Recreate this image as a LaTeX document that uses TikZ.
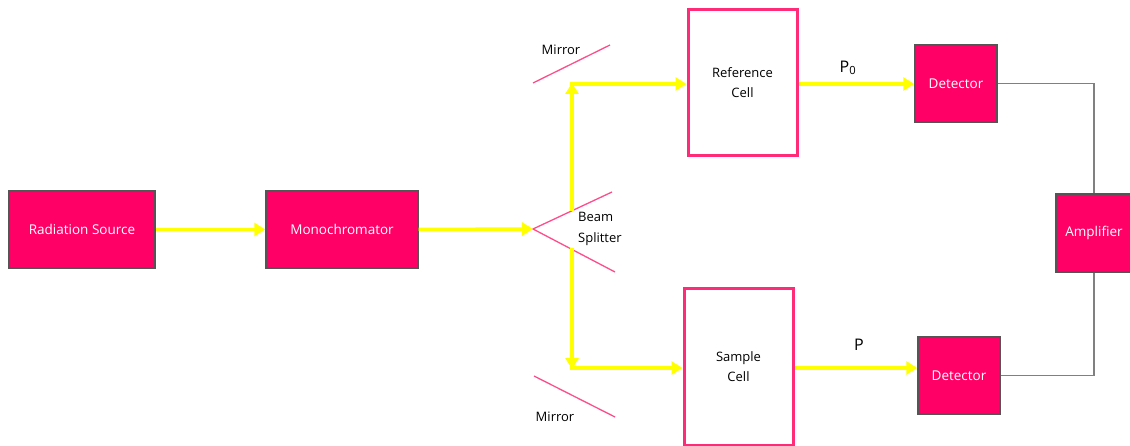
\documentclass[tikz,border=0pt]{standalone}
\usepackage{fontspec}
\setmainfont{Open Sans}
\usetikzlibrary{arrows.meta}
\definecolor{boxpink}{HTML}{FF0066}
\definecolor{boxedge}{HTML}{555555}
\definecolor{cellpink}{HTML}{FF2A78}
\definecolor{mirrorpink}{HTML}{FF4D8C}
\definecolor{beam}{HTML}{FFFF00}
\definecolor{wire}{HTML}{808080}
\begin{document}
\begin{tikzpicture}[x=1pt,y=-1pt,
  blk/.style={draw=boxedge,line width=1.4pt,fill=boxpink,text=white,font=\fontsize{13.5}{16}\selectfont,inner sep=0pt},
  cell/.style={draw=cellpink,line width=3pt,fill=white,font=\fontsize{13}{20}\selectfont,align=center,inner sep=0pt},
  ray/.style={beam,line width=3.5pt,-{Triangle[length=11pt,width=13pt]}},
  mirror/.style={mirrorpink,line width=1.3pt},
  wireline/.style={wire,line width=1.2pt},
  lbl/.style={font=\fontsize{13}{16}\selectfont,inner sep=0pt}]
\useasboundingbox (0,0) rectangle (1130,446);
% blocks
\node[blk,minimum width=146pt,minimum height=77pt] (src) at (82,229.5) {Radiation Source};
\node[blk,minimum width=152pt,minimum height=77pt] (mono) at (342,229.5) {Monochromator};
\node[blk,minimum width=82pt,minimum height=77pt] (det1) at (956,83.5) {Detector};
\node[blk,minimum width=82pt,minimum height=77pt] (det2) at (959,375.5) {Detector};
\node[blk,minimum width=76pt,minimum height=78pt] (amp) at (1094,233) {Amplifier};
% cells
\node[cell,minimum width=109pt,minimum height=146pt] (ref) at (742.5,83) {Reference\\Cell};
\node[cell,minimum width=109pt,minimum height=156pt] (samp) at (738.5,367) {Sample\\Cell};
% beam splitter
\coordinate (apex) at (533,229);
\coordinate (bsu) at (612,192);
\coordinate (bsl) at (615,272);
\draw[mirror] (bsu) -- (apex) -- (bsl);
\node[lbl,anchor=west,align=left,font=\fontsize{13}{21}\selectfont] (bstxt) at (578,229) {Beam\\Splitter};
% mirrors
\coordinate (m1a) at (533,83);
\coordinate (m1b) at (610,45);
\coordinate (m2a) at (534,376);
\coordinate (m2b) at (615,417);
\draw[mirror] (m1a) -- (m1b);
\draw[mirror] (m2a) -- (m2b);
\node[lbl] (mt1) at (561,50) {Mirror};
\node[lbl] (mt2) at (555,417) {Mirror};
% rays
\coordinate (up0) at (572,211);
\coordinate (up1) at (572,83);
\coordinate (dn0) at (572,248);
\coordinate (dn1) at (572,369);
\draw[ray] (src.east) -- (mono.west);
\draw[ray] (mono.east) -- (apex);
\draw[ray] (up0) -- (up1);
\draw[ray] (dn0) -- (dn1);
\draw[ray] (570.25,84) -- (ref.west |- 0,84);
\draw[ray] (570.25,368) -- (samp.west |- 0,368);
\draw[ray] (ref.east |- 0,84) -- (det1.west |- 0,84);
\draw[ray] (samp.east |- 0,368) -- (det2.west |- 0,368);
\node[lbl,font=\fontsize{16}{19}\selectfont] (p0) at (848,68) {P\textsubscript{0}};
\node[lbl,font=\fontsize{16}{19}\selectfont] (p) at (859,345) {P};
% wires
\draw[wireline] (det1.east) -| (amp.north);
\draw[wireline] (det2.east) -| (amp.south);
\end{tikzpicture}
\end{document}
